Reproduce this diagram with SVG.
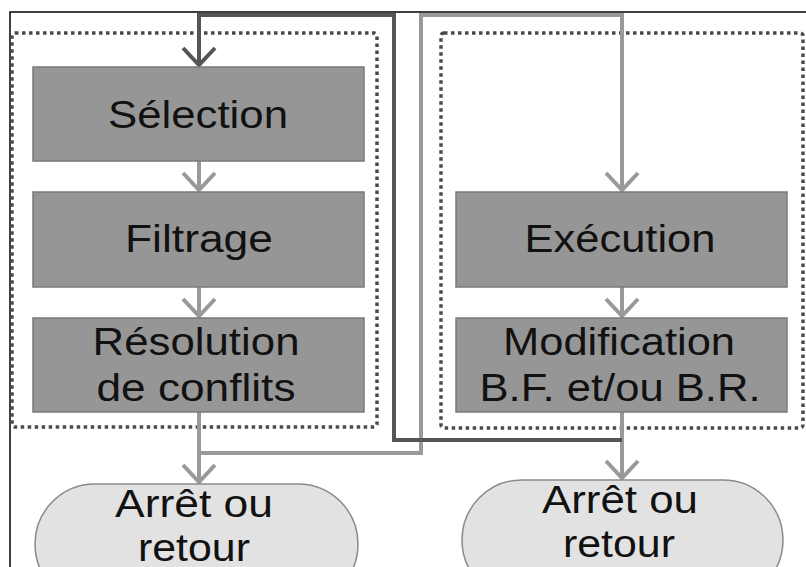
<svg xmlns="http://www.w3.org/2000/svg" width="806" height="567" viewBox="0 0 806 567">
  <style>
    .frame { fill: none; stroke: #111; stroke-width: 1.6; }
    .group { fill: none; stroke: #4a4a4a; stroke-width: 3.5; stroke-dasharray: 3.5 3.5; }
    .step { fill: #969696; stroke: #7a7a7a; stroke-width: 1.5; }
    .end { fill: #e2e2e2; stroke: #8a8a8a; stroke-width: 1.5; }
    .lbl { font-family: "Liberation Sans", Arial, sans-serif; font-size: 38px; fill: #111; text-anchor: middle; }
    .flow { fill: none; stroke: #999; stroke-width: 4; }
    .loop { fill: none; stroke: #555; stroke-width: 4; }
  </style>
  <defs>
    <marker id="vLight" markerUnits="userSpaceOnUse" markerWidth="24" markerHeight="40" viewBox="-2 -20 24 40" refX="17" refY="0" orient="auto">
      <path d="M0,-16 L17,0 L0,16" fill="none" stroke="#999" stroke-width="4"/>
    </marker>
    <marker id="vDark" markerUnits="userSpaceOnUse" markerWidth="24" markerHeight="40" viewBox="-2 -20 24 40" refX="17" refY="0" orient="auto">
      <path d="M0,-16 L17,0 L0,16" fill="none" stroke="#555" stroke-width="4"/>
    </marker>
  </defs>

  <rect class="frame" x="10" y="12" width="810" height="570"/>

  <!-- dotted groupings -->
  <rect class="group" x="12" y="33" width="365" height="394" rx="3"/>
  <rect class="group" x="441" y="33" width="362" height="395" rx="3"/>

  <!-- connectors -->
  <g id="connectors">
    <path class="flow" d="M199,161 V190" marker-end="url(#vLight)"/>
    <path class="flow" d="M199,287 V316" marker-end="url(#vLight)"/>
    <path class="flow" d="M622,287 V316" marker-end="url(#vLight)"/>
    <path class="flow" d="M199,412 V482" marker-end="url(#vLight)"/>
    <path class="flow" d="M622,412 V478" marker-end="url(#vLight)"/>
    <path class="flow" d="M199,453 H421 V15 H622 V190" marker-end="url(#vLight)"/>
    <path class="loop" d="M622,440 H394 V15 H199 V65" marker-end="url(#vDark)"/>
  </g>

  <g id="selection">
    <rect class="step" x="33" y="67" width="331" height="94"/>
    <text class="lbl" x="198" y="128" textLength="180" lengthAdjust="spacingAndGlyphs">Sélection</text>
  </g>
  <g id="filtrage">
    <rect class="step" x="33" y="192" width="331" height="95"/>
    <text class="lbl" x="199" y="252" textLength="148" lengthAdjust="spacingAndGlyphs">Filtrage</text>
  </g>
  <g id="resolution">
    <rect class="step" x="33" y="318" width="331" height="94"/>
    <text class="lbl" x="196" y="355" textLength="207" lengthAdjust="spacingAndGlyphs">Résolution</text>
    <text class="lbl" x="196" y="401" textLength="199" lengthAdjust="spacingAndGlyphs">de conflits</text>
  </g>
  <g id="execution">
    <rect class="step" x="456" y="192" width="331" height="95"/>
    <text class="lbl" x="620" y="252" textLength="191" lengthAdjust="spacingAndGlyphs">Exécution</text>
  </g>
  <g id="modification">
    <rect class="step" x="456" y="318" width="331" height="94"/>
    <text class="lbl" x="619" y="355" textLength="232" lengthAdjust="spacingAndGlyphs">Modification</text>
    <text class="lbl" x="620" y="401" textLength="281" lengthAdjust="spacingAndGlyphs">B.F. et/ou B.R.</text>
  </g>
  <g id="stop-left">
    <rect class="end" x="35" y="484" width="323" height="120" rx="60"/>
    <text class="lbl" x="194" y="517" textLength="158" lengthAdjust="spacingAndGlyphs">Arrêt ou</text>
    <text class="lbl" x="194" y="561" textLength="112" lengthAdjust="spacingAndGlyphs">retour</text>
  </g>
  <g id="stop-right">
    <rect class="end" x="462" y="480" width="321" height="120" rx="60"/>
    <text class="lbl" x="620" y="513" textLength="156" lengthAdjust="spacingAndGlyphs">Arrêt ou</text>
    <text class="lbl" x="619" y="557" textLength="112" lengthAdjust="spacingAndGlyphs">retour</text>
  </g>
</svg>
